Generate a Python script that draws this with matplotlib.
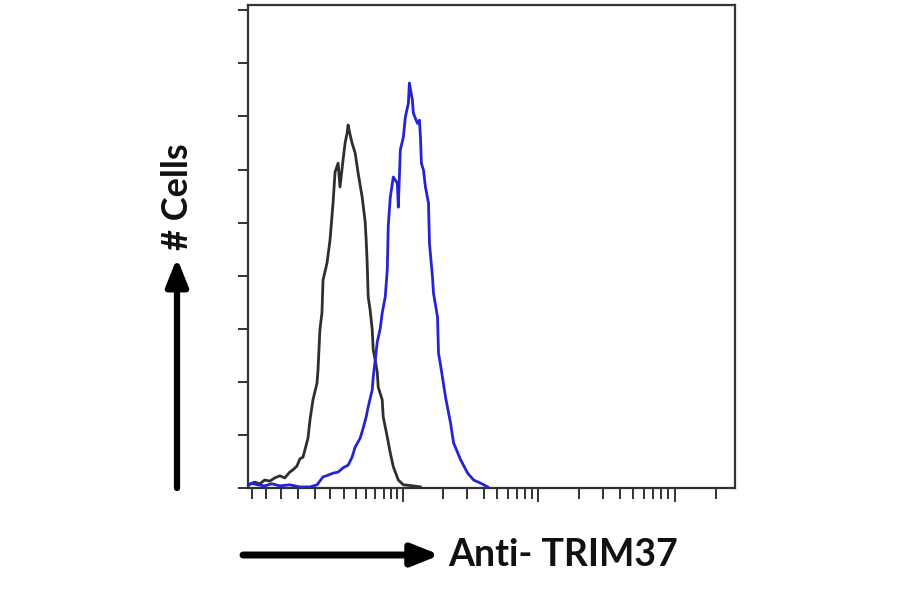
import numpy as np
import matplotlib
matplotlib.use("Agg")
import matplotlib.pyplot as plt

# ---- data (fluorescence intensity, cell counts in axis units) ----
ctrl_x = [-33, -27.8, -24, -20.6, -17.2, -14, -10.8, -7.8, -4.8, -3.0, -0.6, 1.2, 3.0, 4.2,
          6.0, 7.2, 9.0, 11.5, 12.1, 12.7, 13.3, 14.6, 15.3, 17.9, 19.9, 21.3, 22.0, 23.4,
          25.6, 27.0, 29.3, 30.9, 32.5, 33.3, 35.0, 36.6, 39.3, 42.0, 45.8, 48.8, 49.8,
          50.8, 51.9, 54.0, 56.3, 57.4, 59.7, 62.1, 63.3, 68.3, 69.6, 75.1, 79.4, 83.9,
          91.9, 100.6, 120.1, 135.9]
ctrl_y = [0.06, 0.11, 0.08, 0.15, 0.13, 0.19, 0.23, 0.19, 0.30, 0.34, 0.41, 0.55, 0.58, 0.72,
          0.94, 1.28, 1.66, 1.98, 2.22, 2.60, 2.98, 3.30, 3.92, 4.24, 4.67, 5.14, 5.37, 5.95,
          6.12, 5.67, 6.18, 6.50, 6.69, 6.84, 6.65, 6.50, 6.31, 5.93, 5.48, 5.01, 4.67,
          4.26, 3.60, 3.35, 2.98, 2.60, 2.41, 2.18, 1.90, 1.66, 1.34, 0.96, 0.66, 0.40,
          0.15, 0.06, 0.04, 0.02]

trim_x = [-33, -30.1, -25.6, -20.6, -15.9, -10.8, -4.8, 1.2, 7.2, 11.5, 15.3, 18.5, 22.0,
          25.6, 29.3, 33.3, 36.6, 39.3, 43.9, 46.8, 49.8, 51.9, 56.3, 57.4, 59.7, 62.1,
          65.8, 68.3, 72.3, 75.1, 76.5, 79.4, 83.9, 90.3, 91.9, 95.3, 100.6, 104.2, 110.0,
          111.9, 118.0, 120.1, 128.9, 133.5, 135.9, 138.2, 143.2, 148.2, 156.2, 158.9,
          167.4, 170.3, 182.5, 185.6, 192.1, 209.4, 228.1, 240.1, 270.7, 305.0, 337.8,
          380.5, 428.6]
trim_y = [0.04, 0.09, 0.06, 0.04, 0.08, 0.04, 0.06, 0.02, 0.02, 0.06, 0.21, 0.24, 0.28,
          0.30, 0.38, 0.43, 0.58, 0.77, 0.94, 1.13, 1.34, 1.53, 1.85, 2.09, 2.41, 2.75,
          3.01, 3.30, 3.60, 4.11, 4.95, 5.48, 5.86, 5.74, 5.29, 6.37, 6.61, 6.99, 7.25,
          7.63, 7.31, 7.06, 6.87, 6.93, 6.61, 6.12, 5.99, 5.67, 5.37, 4.61,
          3.97, 3.67, 3.22, 2.54, 2.32, 1.71, 1.22, 0.85, 0.53, 0.28, 0.15,
          0.09, 0.02]

x_major_ticks = [100, 1000, 10000]
x_minor_ticks = [-30, -20, -10, 0, 10, 20, 30, 40, 50, 60, 70, 80, 90,
                 200, 300, 400, 500, 600, 700, 800, 900,
                 2000, 3000, 4000, 5000, 6000, 7000, 8000, 9000, 20000]
y_ticks = [0, 1, 2, 3, 4, 5, 6, 7, 8, 9]

x_label = "Anti- TRIM37"
y_label = "# Cells"

C = 35.0
def fwd(x):
    return np.arcsinh(np.asarray(x, dtype=float) / C) / np.log(10)
def inv(y):
    return C * np.sinh(np.asarray(y, dtype=float) * np.log(10))

W, H = 900, 594
fig = plt.figure(figsize=(W / 100, H / 100), dpi=100)
ax = fig.add_axes([248 / W, 1 - 488 / H, (735 - 248) / W, (488 - 5) / H])
ax.set_xscale('function', functions=(fwd, inv))
ax.set_xlim(-33, 27700)
ax.set_ylim(0, 9.1)

ax.plot(ctrl_x, ctrl_y, color='#2e2e2e', lw=2.0, zorder=3)
ax.plot(trim_x, trim_y, color='#2424d6', lw=2.0, zorder=3)

ax.set_xticks(x_major_ticks)
ax.set_xticks(x_minor_ticks, minor=True)
ax.set_yticks(y_ticks)
ax.set_xticklabels([])
ax.set_yticklabels([])
ax.tick_params(axis='x', which='major', length=10, width=1.4, color='#333333', direction='out')
ax.tick_params(axis='x', which='minor', length=8, width=1.4, color='#333333', direction='out')
ax.tick_params(axis='y', which='major', length=7, width=1.4, color='#333333', direction='out')
ax.tick_params(axis='y', which='minor', left=False)
for s in ax.spines.values():
    s.set_linewidth(1.6)
    s.set_color('#333333')

# axis arrows and labels
ax.annotate('', xy=(177, 594 - 258), xytext=(177, 594 - 488), xycoords='figure pixels',
            textcoords='figure pixels',
            arrowprops=dict(arrowstyle='-|>,head_length=0.55,head_width=0.22', lw=4.5,
                            color='black', mutation_scale=30, shrinkA=0, shrinkB=0))
ax.annotate('', xy=(440, 594 - 555), xytext=(243, 594 - 555), xycoords='figure pixels',
            textcoords='figure pixels',
            arrowprops=dict(arrowstyle='-|>,head_length=0.55,head_width=0.22', lw=5,
                            color='black', mutation_scale=30, shrinkA=0, shrinkB=0))

fig.text(177 / W, 1 - 197 / H, y_label, rotation=90, ha='center', va='center',
         fontsize=26, fontweight='bold', family=['Lato', 'DejaVu Sans'], color='#111111')
fig.text(448 / W, 1 - 555 / H, x_label, ha='left', va='center',
         fontsize=27, fontweight='bold', family=['Lato', 'DejaVu Sans'], color='#111111')

fig.savefig('out.png', dpi=100, facecolor='white')
